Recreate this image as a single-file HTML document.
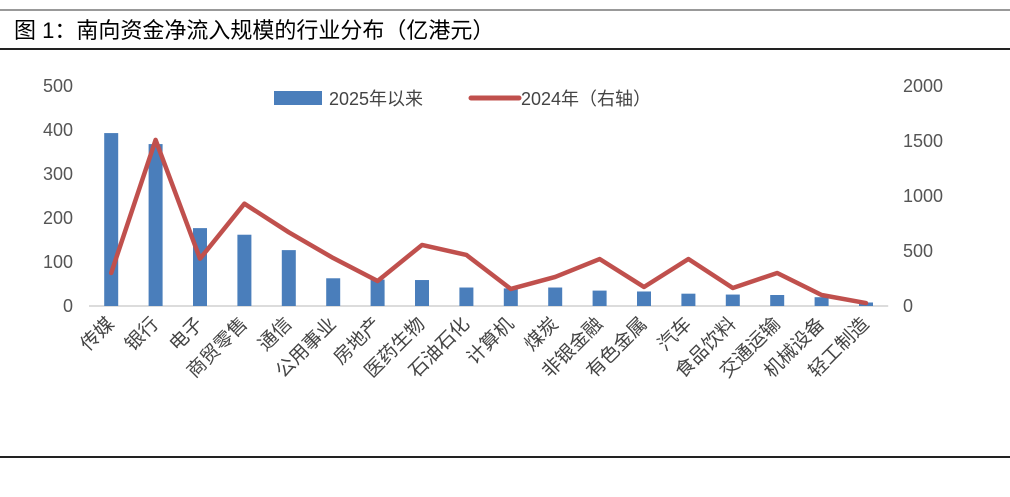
<!DOCTYPE html>
<html><head><meta charset="utf-8"><style>
body{margin:0;background:#fff;width:1010px;height:492px;overflow:hidden;font-family:"Liberation Sans","Noto Sans CJK SC",sans-serif}
</style></head><body>
<svg width="1010" height="492" xmlns="http://www.w3.org/2000/svg">
<line x1="0" y1="10" x2="1010" y2="10" stroke="#333" stroke-width="1"/>
<text x="14" y="38" font-size="22" fill="#000" font-family="Liberation Sans, Noto Sans CJK SC, sans-serif">图 1：南向资金净流入规模的行业分布（亿港元）</text>
<line x1="0" y1="49" x2="1010" y2="49" stroke="#222" stroke-width="2"/>
<line x1="0" y1="457" x2="1010" y2="457" stroke="#222" stroke-width="2"/>
<g id="plot"></g>
<g>
<rect x="274" y="91" width="48" height="14" fill="#4a7ebb"/>
<text x="329" y="105" font-size="18" fill="#444">2025年以来</text>
<line x1="471" y1="98" x2="519" y2="98" stroke="#c0504d" stroke-width="5" stroke-linecap="round"/>
<text x="521" y="105" font-size="18" fill="#444">2024年（右轴）</text>
</g>
</svg>
<script>
const categories=["传媒","银行","电子","商贸零售","通信","公用事业","房地产","医药生物","石油石化","计算机","煤炭","非银金融","有色金属","汽车","食品饮料","交通运输","机械设备","轻工制造"];
const bars2025=[393,368,177,162,127,63,60,59,42,40,42,35,33,28,26,25,20,8];
const line2024=[300,1510,430,930,670,436,227,555,464,155,264,427,173,427,164,300,100,27];
const leftTicks=[0,100,200,300,400,500];
const rightTicks=[0,500,1000,1500,2000];
const NS="http://www.w3.org/2000/svg";
const g=document.getElementById('plot');
const x0=89,band=44.4,y0=306,yTop=86;
const yL=v=>y0-(v/500)*(y0-yTop);
const yR=v=>y0-(v/2000)*(y0-yTop);
const xc=i=>x0+band*(i+0.5);
function mk(t,a){const e=document.createElementNS(NS,t);for(const k in a)e.setAttribute(k,a[k]);g.appendChild(e);return e;}
leftTicks.forEach(v=>{const t=mk('text',{x:73,y:yL(v)+6,'font-size':18,fill:'#555','text-anchor':'end'});t.textContent=v;

});
rightTicks.forEach(v=>{const t=mk('text',{x:903,y:yR(v)+6,'font-size':18,fill:'#555'});t.textContent=v;

});
const ax=mk('line',{x1:x0,y1:y0,x2:x0+band*categories.length,y2:y0,stroke:'#d0d0d0','stroke-width':1.5});


bars2025.forEach((v,i)=>{const r=mk('rect',{x:xc(i)-7,y:yL(v),width:14,height:y0-yL(v),fill:'#4a7ebb'});

});
const pl=mk('polyline',{points:line2024.map((v,i)=>xc(i)+','+yR(v)).join(' '),fill:'none',stroke:'#c0504d','stroke-width':4.5,'stroke-linejoin':'round','stroke-linecap':'round'});


categories.forEach((c,i)=>{const ax2=xc(i)+4,ay=y0+19;const t=mk('text',{x:ax2,y:ay,'font-size':19,fill:'#444','text-anchor':'end',transform:`rotate(-45 ${ax2} ${ay})`});t.textContent=c;

});
</script>
</body></html>
